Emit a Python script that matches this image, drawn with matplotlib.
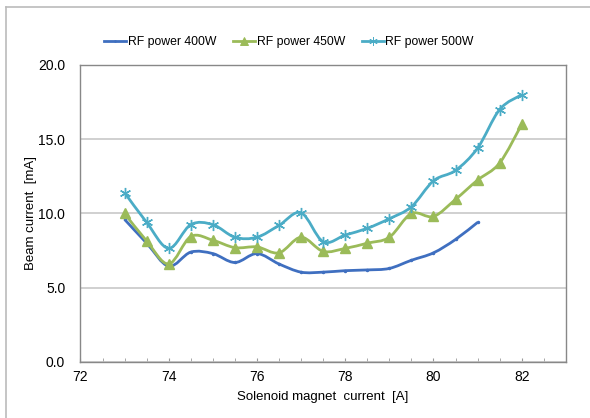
import matplotlib.pyplot as plt
from matplotlib.path import Path
from matplotlib.patches import PathPatch
from matplotlib.lines import Line2D
from matplotlib.ticker import MultipleLocator, FormatStrFormatter

# solenoid current [A]
current = [73, 73.5, 74, 74.5, 75, 75.5, 76, 76.5, 77, 77.5,
           78, 78.5, 79, 79.5, 80, 80.5, 81, 81.5, 82]

# beam current [mA] for each RF power
rf400 = [9.6, 8.0, 6.45, 7.4, 7.3, 6.7, 7.3, 6.6, 6.05, 6.05,
         6.15, 6.2, 6.3, 6.85, 7.35, 8.25, 9.4]
rf450 = [10.0, 8.15, 6.6, 8.45, 8.2, 7.7, 7.75, 7.35, 8.4, 7.45,
         7.65, 8.0, 8.4, 10.0, 9.8, 10.95, 12.25, 13.4, 16.0]
rf500 = [11.4, 9.4, 7.65, 9.25, 9.25, 8.4, 8.4, 9.2, 10.05, 8.1,
         8.55, 9.0, 9.65, 10.45, 12.2, 12.9, 14.4, 17.0, 18.0]

labels = ['RF power 400W', 'RF power 450W', 'RF power 500W']
colors = ['#3F6FC0', '#9BBB59', '#4BACC6']


def smooth_path(xs, ys):
    # excel-like smoothed line: bezier segments with catmull-rom control points
    pts = list(zip(xs, ys))
    verts = [pts[0]]
    codes = [Path.MOVETO]
    for i in range(len(pts) - 1):
        p0 = pts[i - 1] if i > 0 else pts[i]
        p1 = pts[i]
        p2 = pts[i + 1]
        p3 = pts[i + 2] if i + 2 < len(pts) else pts[i + 1]
        c1 = (p1[0] + (p2[0] - p0[0]) / 6, p1[1] + (p2[1] - p0[1]) / 6)
        c2 = (p2[0] - (p3[0] - p1[0]) / 6, p2[1] - (p3[1] - p1[1]) / 6)
        verts += [c1, c2, p2]
        codes += [Path.CURVE4] * 3
    return Path(verts, codes)


plt.rcParams['font.family'] = ['Liberation Sans', 'DejaVu Sans']

fig = plt.figure(figsize=(5.9, 4.18), dpi=100)
ax = fig.add_axes([0.1364, 0.134, 0.959 - 0.1364, 0.8445 - 0.134])

# light frame of the chart area
fig.add_artist(Line2D([0.01, 1.0], [0.983, 0.983], color='#BBBBBB', lw=1.2))
fig.add_artist(Line2D([0.011, 0.011], [0.0, 0.983], color='#BBBBBB', lw=1.2))

series = [rf400, rf450, rf500]
markers = ['.', '^', (6, 2, 0)]
msizes = [3, 7, 8]
handles = []
for ys, lab, col, mk, ms in zip(series, labels, colors, markers, msizes):
    xs = current[:len(ys)]
    ax.add_patch(PathPatch(smooth_path(xs, ys), facecolor='none',
                           edgecolor=col, lw=2.0, zorder=3))
    ax.plot(xs, ys, linestyle='none', marker=mk, markersize=ms,
            color=col, markeredgecolor=col, markeredgewidth=1.0, zorder=4)
    handles.append(Line2D([], [], color=col, lw=2.0, marker=mk,
                          markersize=ms * 0.75, markeredgewidth=0.7, label=lab))

ax.set_xlim(72, 83)
ax.set_ylim(0, 20)
ax.xaxis.set_major_locator(MultipleLocator(2))
ax.xaxis.set_minor_locator(MultipleLocator(0.5))
ax.yaxis.set_major_locator(MultipleLocator(5))
ax.yaxis.set_major_formatter(FormatStrFormatter('%.1f'))
ax.tick_params(axis='x', which='both', direction='in', length=3,
               color='#999999', labelsize=10, pad=6)
ax.tick_params(axis='y', length=0, labelsize=10, pad=11)
ax.grid(axis='y', color='#C8C8C8', lw=1.2)
ax.set_axisbelow(True)
for s in ax.spines.values():
    s.set_color('#888888')
    s.set_linewidth(1.0)

ax.set_xlabel('Solenoid magnet  current  [A]', fontsize=9.5, labelpad=5)
ax.set_ylabel('Beam current  [mA]', fontsize=9.5, labelpad=1)

fig.legend(handles=handles, loc='center', bbox_to_anchor=(0.49, 0.9),
           ncol=3, frameon=False, fontsize=8.8, handlelength=1.8,
           handletextpad=0.1, columnspacing=1.4)

fig.savefig('out.png', dpi=100)
